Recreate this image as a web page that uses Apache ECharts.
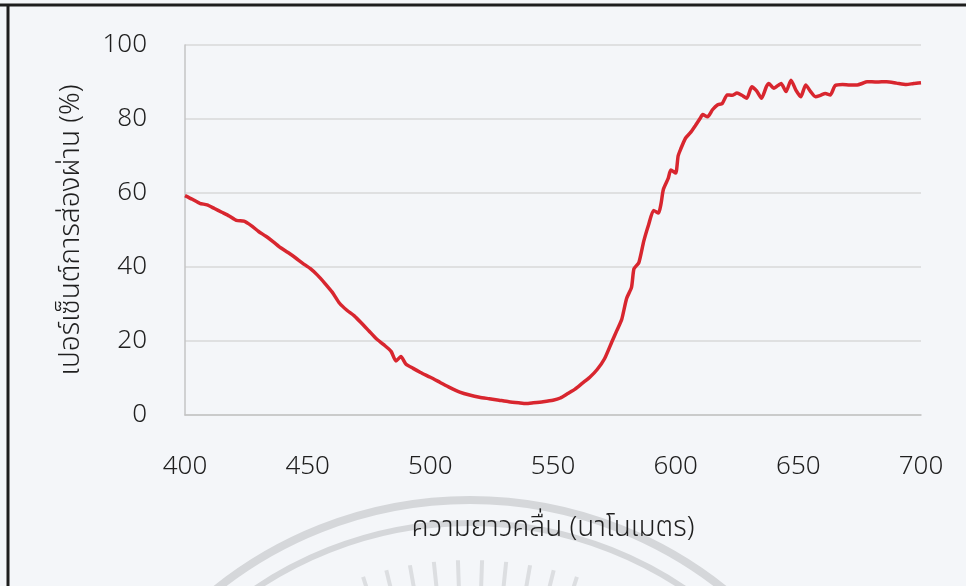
<!DOCTYPE html>
<html>
<head>
<meta charset="utf-8">
<script src="https://cdn.jsdelivr.net/npm/echarts@6/dist/echarts.min.js"></script>
<style>
  html, body { margin: 0; padding: 0; background: #f4f6f9; }
  #chart { width: 966px; height: 586px; }
</style>
</head>
<body>
<div id="chart"></div>
<script>
// Transmission spectrum
const wavelength = [
    400, 403, 406, 409, 412, 415, 418, 421, 424, 427, 430, 433, 436, 439, 442, 445, 448,
    451, 454, 457, 460, 463, 466, 469, 472, 475, 478, 481, 484, 486, 488, 490, 493, 496,
    500, 504, 508, 512, 516, 520, 524, 528, 532, 536, 539, 542, 546, 550, 553, 556, 559,
    562, 565, 568, 571, 574, 576, 578, 580, 582, 583, 585, 587, 589, 591, 593, 594, 595,
    597, 598, 600, 601, 602, 604, 606, 608, 610, 611, 613, 615, 617, 619, 621, 623, 625,
    627, 629, 631, 633, 635, 637, 638, 640, 642, 643, 645, 647, 649, 651, 653, 655, 657,
    659, 661, 663, 665, 668, 671, 674, 676, 678, 682, 686, 690, 694, 697, 700
];
const transmittance = [
    59.3, 58.3, 57.2, 56.8, 55.8, 54.8, 53.8, 52.6, 52.4, 51.2, 49.6, 48.3, 46.8, 45.2, 43.9, 42.5, 41.0,
    39.6, 37.8, 35.6, 33.2, 30.2, 28.3, 26.8, 24.8, 22.7, 20.6, 19.0, 17.2, 14.6, 15.8, 13.8, 12.6, 11.5,
    10.2, 8.8, 7.4, 6.2, 5.4, 4.8, 4.4, 4.0, 3.6, 3.3, 3.1, 3.3, 3.6, 4.0, 4.6, 5.8, 7.0,
    8.6, 10.2, 12.3, 15.2, 19.8, 22.8, 25.8, 31.5, 34.5, 39.5, 41.2, 47.0, 51.5, 55.3, 54.6, 57.0, 61.0,
    64.0, 66.2, 65.4, 70.0, 71.8, 74.8, 76.3, 78.2, 80.2, 81.2, 80.6, 82.5, 83.8, 84.2, 86.5, 86.4, 87.0,
    86.4, 85.6, 88.7, 87.6, 85.6, 88.8, 89.6, 88.3, 89.2, 89.6, 87.4, 90.5, 87.8, 86.0, 89.2, 87.4, 86.0,
    86.4, 86.9, 86.5, 89.0, 89.3, 89.2, 89.2, 89.6, 90.1, 90.0, 90.1, 89.7, 89.3, 89.6, 89.8
];
const xTitle = 'ความยาวคลื่น (นาโนเมตร)';
const yTitle = 'เปอร์เซ็นต์การส่องผ่าน (%)';

const fontFamily = '"Noto Sans", "Noto Sans Thai", "Open Sans", sans-serif';
const textColor = '#1f1f1f';
const textWeight = 300;

// faint seal watermark behind the chart
const sealX = 470, sealY = 906;
const seal = [
    { type: 'circle', shape: { cx: sealX, cy: sealY, r: 406 },
      style: { fill: 'none', stroke: '#d5d7da', lineWidth: 8 }, z: -1, silent: true },
    { type: 'circle', shape: { cx: sealX, cy: sealY, r: 383 },
      style: { fill: 'none', stroke: '#d5d7da', lineWidth: 6 }, z: -1, silent: true }
];
for (let a = -108; a <= -72; a += 4) {
    const t = a * Math.PI / 180;
    seal.push({
        type: 'line',
        shape: {
            x1: sealX + Math.cos(t) * 318, y1: sealY + Math.sin(t) * 318,
            x2: sealX + Math.cos(t) * 346, y2: sealY + Math.sin(t) * 346
        },
        style: { stroke: '#dcdee1', lineWidth: 4 }, z: -1, silent: true
    });
}
// scanned page frame
seal.push({ type: 'line', shape: { x1: 0, y1: 5, x2: 966, y2: 5 },
    style: { stroke: '#1e1e1e', lineWidth: 3 }, silent: true });
seal.push({ type: 'line', shape: { x1: 8, y1: 5, x2: 8, y2: 586 },
    style: { stroke: '#1e1e1e', lineWidth: 3 }, silent: true });

const chart = echarts.init(document.getElementById('chart'));

const option = {
    backgroundColor: '#f4f6f9',
    animation: false,
    graphic: seal,
    grid: { left: 185, right: 45, top: 45, bottom: 171 },
    xAxis: {
        type: 'value',
        min: 400,
        max: 700,
        interval: 50,
        name: xTitle,
        nameLocation: 'middle',
        nameGap: 99,
        nameTextStyle: { fontSize: 28, color: textColor, fontFamily: fontFamily, fontWeight: textWeight },
        axisLine: { show: true, lineStyle: { color: '#c4c4c4', width: 1.5 } },
        axisTick: { show: false },
        axisLabel: { fontSize: 26, color: textColor, fontFamily: fontFamily, fontWeight: textWeight, margin: 39 },
        splitLine: { show: false }
    },
    yAxis: {
        type: 'value',
        min: 0,
        max: 100,
        interval: 20,
        name: yTitle,
        nameLocation: 'middle',
        nameRotate: 90,
        nameGap: 100,
        nameTextStyle: { fontSize: 28, color: textColor, fontFamily: fontFamily, fontWeight: textWeight },
        axisLine: { show: true, lineStyle: { color: '#c4c4c4', width: 1.5 } },
        axisTick: { show: false },
        axisLabel: { fontSize: 26, color: textColor, fontFamily: fontFamily, fontWeight: textWeight, margin: 38 },
        splitLine: { show: true, lineStyle: { color: '#d9d9d9', width: 1.5 } }
    },
    series: [{
        type: 'line',
        data: wavelength.map((w, i) => [w, transmittance[i]]),
        showSymbol: false,
        smooth: 0.2,
        lineStyle: { color: '#d8262f', width: 3.5 }
    }]
};

chart.setOption(option);
</script>
</body>
</html>
